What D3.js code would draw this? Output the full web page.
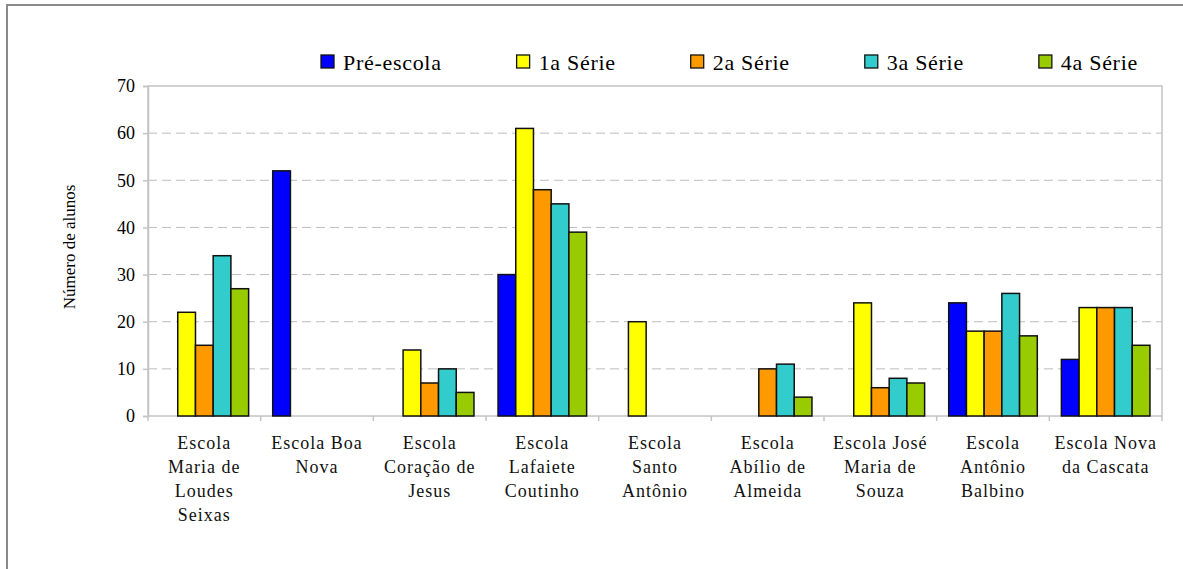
<!DOCTYPE html>
<html>
<head>
<meta charset="utf-8">
<script src="https://cdn.jsdelivr.net/npm/d3@7"></script>
<style>
	body { margin: 0; background: #fff; }
	svg text { font-family: "Liberation Serif", "Times New Roman", serif; }
</style>
</head>
<body>
<div id="chart"></div>
<script>
// schools, each label split in the lines shown under the axis
var schools = [
	["Escola", "Maria de", "Loudes", "Seixas"],
	["Escola Boa", "Nova"],
	["Escola", "Coração de", "Jesus"],
	["Escola", "Lafaiete", "Coutinho"],
	["Escola", "Santo", "Antônio"],
	["Escola", "Abílio de", "Almeida"],
	["Escola José", "Maria de", "Souza"],
	["Escola", "Antônio", "Balbino"],
	["Escola Nova", "da Cascata"]
];

var series = ["Pré-escola", "1a Série", "2a Série", "3a Série", "4a Série"];
var colors = ["#0000ff", "#ffff00", "#ff9900", "#33cccc", "#99cc00"];

var preEscola = [0, 52, 0, 30, 0, 0, 0, 24, 12];
var serie1 = [22, 0, 14, 61, 20, 0, 24, 18, 23];
var serie2 = [15, 0, 7, 48, 0, 10, 6, 18, 23];
var serie3 = [34, 0, 10, 45, 0, 11, 8, 26, 23];
var serie4 = [27, 0, 5, 39, 0, 4, 7, 17, 15];

var yTicks = [0, 10, 20, 30, 40, 50, 60, 70];
var yTitle = "Número de alunos";

var values = [preEscola, serie1, serie2, serie3, serie4];

var serif = "'Liberation Serif', 'Times New Roman', serif";
var width = 1183, height = 569;
var svg = d3.select("#chart").append("svg")
	.attr("width", width)
	.attr("height", height)
	.attr("font-family", serif);

// outer frame (right and bottom edges fall outside the picture)
svg.append("rect")
	.attr("x", 7).attr("y", 5)
	.attr("width", 1200).attr("height", 600)
	.attr("fill", "none")
	.attr("stroke", "#8a8a8a")
	.attr("stroke-width", 2);

var plot = {left: 148, right: 1162, top: 86, bottom: 416};

var keys = schools.map(function(d) { return d.join(" "); });

var x = d3.scaleBand()
	.domain(keys)
	.range([plot.left, plot.right])
	.padding(0);

var xSub = d3.scaleBand()
	.domain(series)
	.range([0, x.bandwidth()])
	.paddingInner(0)
	.paddingOuter(0.68);

var y = d3.scaleLinear()
	.domain([0, 70])
	.range([plot.bottom, plot.top]);

// gridlines
svg.append("g")
	.selectAll("line")
	.data(yTicks.filter(function(d) { return d > 0 && d < 70; }))
	.enter().append("line")
	.attr("x1", plot.left).attr("x2", plot.right)
	.attr("y1", function(d) { return y(d); })
	.attr("y2", function(d) { return y(d); })
	.attr("stroke", "#bdbdbd")
	.attr("stroke-dasharray", "9,5");

// plot border
svg.append("rect")
	.attr("x", plot.left).attr("y", plot.top)
	.attr("width", plot.right - plot.left)
	.attr("height", plot.bottom - plot.top)
	.attr("fill", "none")
	.attr("stroke", "#c4c4c4")
	.attr("stroke-width", 1.5);

// y axis
var yAxis = svg.append("g")
	.attr("transform", "translate(" + plot.left + ",0)")
	.call(d3.axisLeft(y).tickValues(yTicks).tickSize(5).tickPadding(8))
	.attr("font-family", serif)
	.attr("font-size", 18);
yAxis.select(".domain").attr("stroke", "#c4c4c4").attr("stroke-width", 1.5);
yAxis.selectAll(".tick line").attr("stroke", "#c4c4c4").attr("stroke-width", 1.5);
yAxis.selectAll(".tick text").attr("fill", "#000");

// x axis tick marks at category boundaries
svg.append("g")
	.selectAll("line")
	.data(d3.range(keys.length + 1))
	.enter().append("line")
	.attr("x1", function(i) { return plot.left + i * x.step(); })
	.attr("x2", function(i) { return plot.left + i * x.step(); })
	.attr("y1", plot.bottom)
	.attr("y2", plot.bottom + 5)
	.attr("stroke", "#c4c4c4")
	.attr("stroke-width", 1.5);

// x labels
var xLabel = svg.append("g")
	.selectAll("text")
	.data(schools)
	.enter().append("text")
	.attr("text-anchor", "middle")
	.attr("font-size", 18)
	.attr("letter-spacing", 1)
	.attr("fill", "#111");
xLabel.each(function(lines, i) {
	var cx = x(keys[i]) + x.bandwidth() / 2;
	d3.select(this).selectAll("tspan")
		.data(lines)
		.enter().append("tspan")
		.attr("x", cx)
		.attr("y", function(d, j) { return plot.bottom + 33 + j * 24; })
		.text(function(d) { return d; });
});

// y title
svg.append("text")
	.attr("transform", "translate(75,247) rotate(-90)")
	.attr("text-anchor", "middle")
	.attr("font-size", 17)
	.attr("fill", "#000")
	.text(yTitle);

// bars
var barData = [];
keys.forEach(function(k, i) {
	series.forEach(function(s, j) {
		if(values[j][i] > 0) {
			barData.push({school: k, serie: s, value: values[j][i], color: colors[j]});
		}
	});
});

svg.append("g")
	.selectAll("rect")
	.data(barData)
	.enter().append("rect")
	.attr("x", function(d) { return x(d.school) + xSub(d.serie); })
	.attr("y", function(d) { return y(d.value); })
	.attr("width", xSub.bandwidth())
	.attr("height", function(d) { return y(0) - y(d.value); })
	.attr("fill", function(d) { return d.color; })
	.attr("stroke", "#111")
	.attr("stroke-width", 1.5);

// legend
var legend = svg.append("g");
var lx = 321;
series.forEach(function(s, j) {
	legend.append("rect")
		.attr("x", lx).attr("y", 55)
		.attr("width", 13).attr("height", 13)
		.attr("fill", colors[j])
		.attr("stroke", "#111")
		.attr("stroke-width", 1.3);
	var t = legend.append("text")
		.attr("x", lx + 22).attr("y", 70)
		.attr("font-size", 22)
		.attr("letter-spacing", 0.7)
		.attr("fill", "#000")
		.text(s);
	lx = lx + 22 + t.node().getComputedTextLength() + 75;
});
</script>
</body>
</html>
